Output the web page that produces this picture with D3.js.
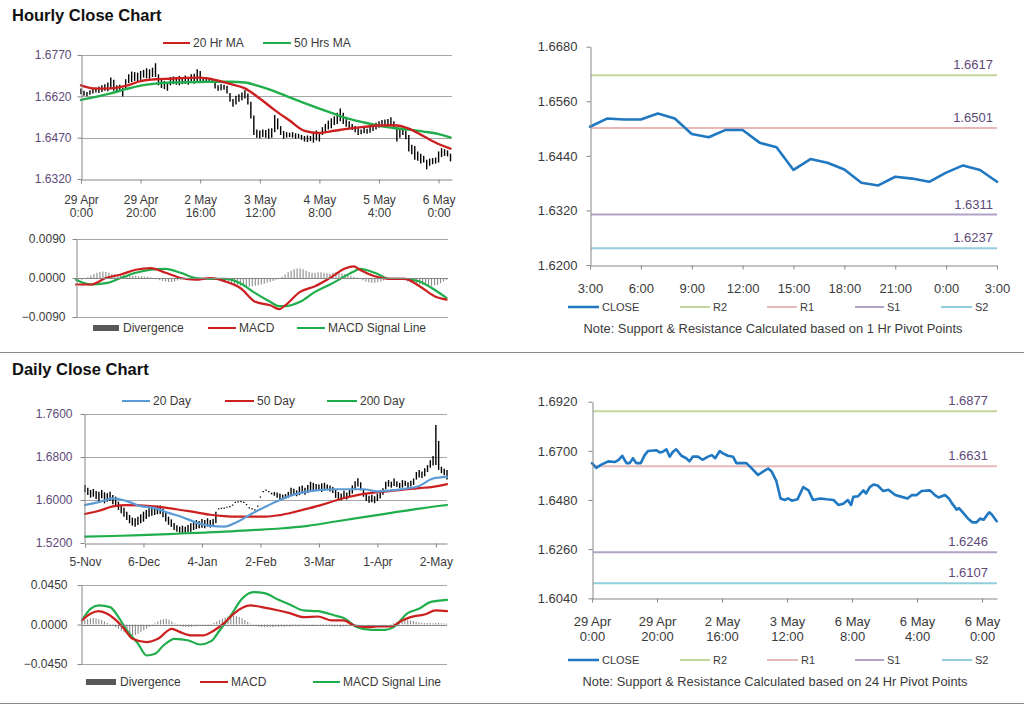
<!DOCTYPE html>
<html><head><meta charset="utf-8">
<script src="https://cdn.jsdelivr.net/npm/d3@7"></script>
<style>body{margin:0;background:#fff;} svg{display:block;}</style>
</head><body>
<svg id="c" width="1024" height="706"></svg>
<script>
// ---------------- DATA ----------------
// Hourly close chart (bars: index 0..124)
const hourlyLow = [1.6628,1.6622,1.6620,1.6626,1.6630,1.6634,1.6632,1.6636,1.6640,1.6638,
 1.6648,1.6640,1.6636,1.6640,1.6619,1.6650,1.6668,1.6672,1.6676,1.6674,
 1.6680,1.6688,1.6686,1.6684,1.6690,1.6690,1.6660,1.6650,1.6646,1.6640,
 1.6660,1.6664,1.6662,1.6660,1.6664,1.6666,1.6662,1.6668,1.6666,1.6672,
 1.6676,1.6672,1.6674,1.6670,1.6668,1.6648,1.6640,1.6642,1.6644,1.6630,
 1.6600,1.6582,1.6590,1.6600,1.6606,1.6612,1.6590,1.6540,1.6480,1.6470,
 1.6468,1.6472,1.6470,1.6466,1.6470,1.6490,1.6500,1.6480,1.6466,1.6470,
 1.6472,1.6470,1.6466,1.6468,1.6462,1.6456,1.6454,1.6458,1.6452,1.6460,
 1.6456,1.6480,1.6490,1.6500,1.6504,1.6516,1.6520,1.6530,1.6520,1.6510,
 1.6504,1.6498,1.6490,1.6480,1.6482,1.6486,1.6484,1.6488,1.6494,1.6500,
 1.6506,1.6510,1.6508,1.6512,1.6516,1.6504,1.6456,1.6470,1.6480,1.6464,
 1.6420,1.6410,1.6390,1.6386,1.6376,1.6380,1.6355,1.6368,1.6374,1.6376,
 1.6380,1.6400,1.6404,1.6402,1.6384];
const hourlyHigh = [1.6648,1.6640,1.6636,1.6642,1.6650,1.6652,1.6656,1.6660,1.6664,1.6670,
 1.6688,1.6680,1.6660,1.6662,1.6650,1.6682,1.6700,1.6710,1.6708,1.6706,
 1.6712,1.6716,1.6722,1.6718,1.6724,1.6740,1.6700,1.6682,1.6676,1.6670,
 1.6690,1.6692,1.6688,1.6694,1.6690,1.6696,1.6690,1.6700,1.6702,1.6718,
 1.6712,1.6690,1.6688,1.6686,1.6680,1.6668,1.6660,1.6664,1.6662,1.6658,
 1.6632,1.6610,1.6622,1.6628,1.6634,1.6642,1.6630,1.6600,1.6550,1.6500,
 1.6496,1.6500,1.6498,1.6502,1.6504,1.6552,1.6540,1.6512,1.6494,1.6490,
 1.6488,1.6490,1.6486,1.6484,1.6480,1.6476,1.6478,1.6476,1.6490,1.6496,
 1.6490,1.6508,1.6520,1.6532,1.6540,1.6548,1.6560,1.6576,1.6560,1.6546,
 1.6530,1.6520,1.6512,1.6504,1.6500,1.6506,1.6502,1.6510,1.6514,1.6524,
 1.6530,1.6534,1.6536,1.6538,1.6544,1.6530,1.6510,1.6506,1.6512,1.6496,
 1.6480,1.6444,1.6440,1.6420,1.6412,1.6404,1.6390,1.6394,1.6396,1.6398,
 1.6420,1.6432,1.6428,1.6424,1.6412];
const hourlyMaIdx = [0,5,10,15,20,25,30,35,40,45,50,55,60,65,70,75,80,85,90,95,100,105,110,115,120,124];
const ma20Hr = [1.6660,1.6648,1.6649,1.6658,1.6675,1.6682,1.6684,1.6687,1.6688,1.6680,1.6665,1.6649,1.6612,1.6570,1.6532,1.6495,1.6487,1.6495,1.6503,1.6509,1.6514,1.6515,1.6503,1.6475,1.6447,1.6430];
const ma50Hr = [1.6607,1.6618,1.6631,1.6646,1.6659,1.6666,1.6670,1.6671,1.6672,1.6673,1.6673,1.6670,1.6656,1.6638,1.6616,1.6595,1.6575,1.6556,1.6538,1.6525,1.6513,1.6505,1.6499,1.6492,1.6483,1.6471];
const hourlyTickIdx = [0,20,40,60,80,100,120];
const hourlyTickLabels = [["29 Apr","0:00"],["29 Apr","20:00"],["2 May","16:00"],["3 May","12:00"],["4 May","8:00"],["5 May","4:00"],["6 May","0:00"]];
const hourlyYTicks = [1.6320,1.6470,1.6620,1.6770];

// Hourly MACD
const macdHIdx = [0,5,10,15,20,25,30,35,40,45,50,55,60,65,68,70,75,80,85,90,93,95,100,105,110,115,120,124];
const macdH = [-0.0015,-0.0015,0.0000,0.0008,0.0019,0.0023,0.0012,0.0000,-0.0004,0.0000,-0.0008,-0.0023,-0.0055,-0.0063,-0.0072,-0.0063,-0.0032,-0.0019,0.0000,0.0022,0.0027,0.0019,0.0004,-0.0002,-0.0002,-0.0019,-0.0042,-0.0050];
const signalH = [-0.0004,-0.0015,-0.0012,0.0000,0.0012,0.0019,0.0021,0.0012,0.0000,-0.0002,-0.0002,-0.0012,-0.0035,-0.0055,-0.0065,-0.0065,-0.0055,-0.0032,-0.0015,0.0004,0.0015,0.0021,0.0012,-0.0002,-0.0002,-0.0008,-0.0027,-0.0046];
const divergenceH = [0,-0.0003,-0.0004,-0.0002,0.0002,0.0006,0.0009,0.0012,0.0014,0.0015,
 0.0014,0.0012,0.0010,0.0009,0.0008,0.0008,0.0007,0.0006,0.0006,0.0005,
 0.0005,0.0004,0.0004,0.0003,0.0003,0.0002,0.0000,-0.0003,-0.0005,-0.0007,
 -0.0008,-0.0009,-0.0009,-0.0008,-0.0006,-0.0004,-0.0003,-0.0002,-0.0001,0.0000,
 0.0001,0.0002,0.0001,0.0000,-0.0001,-0.0002,-0.0003,-0.0004,-0.0005,-0.0006,
 -0.0008,-0.0010,-0.0012,-0.0014,-0.0016,-0.0018,-0.0019,-0.0020,-0.0020,-0.0019,
 -0.0018,-0.0017,-0.0015,-0.0013,-0.0011,-0.0009,-0.0007,-0.0004,-0.0001,0.0003,
 0.0008,0.0013,0.0017,0.0020,0.0022,0.0022,0.0020,0.0017,0.0014,0.0012,
 0.0012,0.0013,0.0013,0.0012,0.0011,0.0010,0.0012,0.0014,0.0013,0.0011,
 0.0009,0.0007,0.0005,0.0003,0.0001,-0.0002,-0.0005,-0.0008,-0.0010,-0.0011,
 -0.0011,-0.0010,-0.0008,-0.0006,-0.0004,-0.0003,-0.0002,-0.0001,0.0000,-0.0002,
 -0.0005,-0.0008,-0.0010,-0.0012,-0.0014,-0.0015,-0.0016,-0.0017,-0.0018,-0.0018,
 -0.0017,-0.0016,-0.0012,-0.0008,-0.0004];
const macdHYTicks = [-0.0090,0.0000,0.0090];

// 1 Hr pivot chart
const close1Hr = [1.6504,1.6522,1.6520,1.6520,1.6533,1.6522,1.6488,1.6481,1.6497,1.6497,1.6469,1.6459,1.6409,1.6433,1.6425,1.6410,1.6381,1.6375,1.6394,1.6390,1.6383,1.6403,1.6419,1.6409,1.6383];
const hours1Hr = ["3:00","6:00","9:00","12:00","15:00","18:00","21:00","0:00","3:00"];
const pivot1Hr = [1.6617,1.6501,1.6311,1.6237]; // R2, R1, S1, S2
const y1HrTicks = [1.6200,1.6320,1.6440,1.6560,1.6680];

// Daily close chart (bars: index 0..130)
const dailyLow = [1.6143,1.6093,1.6044,1.6062,1.6019,1.5982,1.6031,1.5938,1.5969,1.5982,
 1.5920,1.5907,1.5814,1.5752,1.5690,1.5628,1.5566,1.5523,1.5504,1.5535,
 1.5566,1.5597,1.5647,1.5690,1.5709,1.5721,1.5734,1.5740,1.5680,1.5600,
 1.5540,1.5500,1.5440,1.5410,1.5390,1.5380,1.5393,1.5399,1.5411,1.5442,
 1.5461,1.5473,1.5486,1.5473,1.5504,1.5486,1.5523,1.5566,
 1.5824,1.5834,1.5839,1.5854,1.5864,1.5894,1.5944,1.5954,1.5959,1.5944,1.5904,1.5844,1.5824,1.5804,1.5874,1.6044,1.6144,1.6174,1.6144,
 1.6105,1.6080,1.6040,1.6010,1.6000,1.6020,1.6040,1.6080,1.6100,1.6070,1.6090,1.6120,1.6100,
 1.6130,1.6150,1.6160,1.6180,1.6170,1.6150,1.6180,1.6200,1.6160,1.6130,
 1.6040,1.6000,1.5990,1.6030,1.6010,1.6060,1.6120,1.6200,1.6250,1.6180,
 1.6060,1.5980,1.5950,1.5960,1.5940,1.5980,1.6030,1.6100,1.6200,1.6250,
 1.6230,1.6260,1.6240,1.6220,1.6230,1.6260,1.6220,1.6250,1.6280,1.6380,
 1.6420,1.6410,1.6440,1.6520,1.6600,1.6640,1.6650,1.6560,1.6500,1.6460,1.6380];
const dailyHigh = [1.6279,1.6230,1.6186,1.6205,1.6168,1.6155,1.6186,1.6143,1.6124,1.6155,
 1.6093,1.6062,1.5969,1.5907,1.5858,1.5783,1.5721,1.5672,1.5659,1.5690,
 1.5734,1.5783,1.5814,1.5845,1.5858,1.5876,1.5895,1.5900,1.5840,1.5760,
 1.5690,1.5640,1.5570,1.5530,1.5504,1.5523,1.5504,1.5535,1.5566,1.5597,
 1.5628,1.5610,1.5647,1.5628,1.5659,1.5628,1.5647,1.5783,
 1.5836,1.5846,1.5851,1.5866,1.5876,1.5906,1.5956,1.5966,1.5971,1.5956,1.5916,1.5856,1.5836,1.5816,1.5886,1.6056,1.6156,1.6186,1.6156,
 1.6135,1.6150,1.6140,1.6120,1.6100,1.6110,1.6150,1.6230,1.6210,1.6180,1.6250,1.6270,1.6230,
 1.6280,1.6340,1.6320,1.6300,1.6290,1.6310,1.6320,1.6290,1.6270,1.6240,
 1.6200,1.6150,1.6120,1.6170,1.6140,1.6200,1.6270,1.6350,1.6403,1.6330,
 1.6200,1.6110,1.6080,1.6100,1.6070,1.6120,1.6180,1.6220,1.6340,1.6370,
 1.6340,1.6400,1.6350,1.6320,1.6370,1.6360,1.6330,1.6360,1.6400,1.6520,
 1.6560,1.6530,1.6590,1.6650,1.6740,1.6820,1.7395,1.7100,1.6620,1.6580,1.6560];
const dailyMaIdx = [0,5,10,15,20,25,30,35,40,45,50,55,60,65,70,75,80,85,90,95,100,105,110,115,120,125,130];
const ma20Day = [1.5907,1.5960,1.6031,1.5980,1.5885,1.5850,1.5760,1.5680,1.5580,1.5520,1.5505,1.5600,1.5750,1.5880,1.6000,1.6100,1.6160,1.6190,1.6200,1.6200,1.6200,1.6160,1.6180,1.6210,1.6260,1.6400,1.6430];
const ma50Day = [1.5740,1.5800,1.5880,1.5905,1.5900,1.5880,1.5850,1.5810,1.5770,1.5725,1.5700,1.5690,1.5690,1.5690,1.5720,1.5775,1.5840,1.5910,1.5990,1.6060,1.6115,1.6145,1.6170,1.6195,1.6220,1.6245,1.6295];
const ma200Idx = [0,10,20,30,40,50,60,70,80,90,100,110,120,130];
const ma200Day = [1.5320,1.5330,1.5345,1.5365,1.5390,1.5410,1.5440,1.5470,1.5520,1.5600,1.5680,1.5760,1.5840,1.5907];
const dailyTickIdx = [0,21,42,63,84,105,126];
const dailyTickLabels = ["5-Nov","6-Dec","4-Jan","2-Feb","3-Mar","1-Apr","2-May"];
const dailyYTicks = [1.5200,1.6000,1.6800,1.7600];

// Daily MACD
const macdDIdx = [0,3,6,9,12,15,18,23,27,32,35,39,43,47,51,54,60,64,70,74,79,84,89,93,97,102,105,110,114,117,122,126,130];
const macdD = [0.0046,0.0122,0.0152,0.0122,0.0053,-0.0049,-0.0163,-0.0201,-0.0163,-0.0049,-0.0087,-0.0125,-0.0125,-0.0068,0.0027,0.0122,0.0217,0.0198,0.0160,0.0129,0.0084,0.0091,0.0046,0.0046,-0.0011,-0.0030,-0.0023,-0.0023,0.0046,0.0084,0.0114,0.0160,0.0152];
const signalDIdx = [0,3,6,10,13,16,20,23,26,29,33,38,42,46,49,53,57,61,65,70,74,79,84,90,93,98,103,108,111,116,120,124,130];
const signalD = [0.0046,0.0179,0.0217,0.0198,0.0084,-0.0068,-0.0220,-0.0353,-0.0334,-0.0239,-0.0163,-0.0182,-0.0228,-0.0190,-0.0068,0.0103,0.0293,0.0369,0.0357,0.0281,0.0228,0.0160,0.0152,0.0103,0.0076,-0.0030,-0.0061,-0.0061,-0.0030,0.0129,0.0179,0.0255,0.0281];
const divergenceD = [0.0030,0.0050,0.0060,0.0070,0.0075,0.0070,0.0060,0.0050,0.0035,0.0020,
 0.0005,-0.0010,-0.0030,-0.0050,-0.0070,-0.0090,-0.0105,-0.0120,-0.0125,-0.0120,
 -0.0105,-0.0085,-0.0065,-0.0045,-0.0025,-0.0005,0.0015,0.0035,0.0050,0.0060,
 0.0065,0.0055,0.0035,0.0010,-0.0010,-0.0020,-0.0025,-0.0025,-0.0028,-0.0025,
 -0.0020,-0.0020,-0.0018,-0.0015,-0.0010,-0.0005,0.0005,0.0020,0.0035,0.0050,
 0.0065,0.0080,0.0090,0.0100,0.0100,0.0095,0.0085,0.0070,0.0050,0.0030,
 0.0010,-0.0010,-0.0020,-0.0025,-0.0028,-0.0030,-0.0030,-0.0028,-0.0030,-0.0025,
 -0.0025,-0.0022,-0.0025,-0.0020,-0.0022,-0.0020,-0.0018,-0.0020,-0.0015,-0.0018,
 -0.0015,-0.0018,-0.0012,-0.0010,-0.0012,-0.0015,-0.0012,-0.0015,-0.0018,-0.0020,
 -0.0022,-0.0020,-0.0025,-0.0022,-0.0018,-0.0015,-0.0012,-0.0008,-0.0005,-0.0003,
 -0.0002,0.0000,0.0002,0.0003,0.0002,0.0000,-0.0002,-0.0003,-0.0002,0.0000,
 0.0005,0.0015,0.0025,0.0035,0.0045,0.0050,0.0050,0.0045,0.0040,0.0030,
 0.0025,0.0020,0.0015,0.0018,0.0020,0.0015,0.0018,0.0020,0.0015,0.0010,0.0008];
const macdDYTicks = [-0.0450,0.0000,0.0450];

// 24 Hr pivot chart (hourly closes, positions in hour index 0..124)
const close24Idx = [0,1.3,2.9,5,7,8.2,9.3,10.6,11.6,12.6,13.6,15,16.2,17.2,19.8,20.8,21.8,22.9,23.9,24.9,25.9,27.5,29,30,31,32.6,34,35.7,36.9,37.9,39.3,40.3,41.8,43.4,44.4,45.9,47.5,49,51.1,52.6,54.2,55.2,56.7,58,59.3,60.3,61.5,63.2,65,66.6,68,70.2,72.2,74.3,75.8,77.3,78.7,79.7,80.4,81.9,83.5,84.3,85.5,86.6,87.9,89.6,91.2,93.3,95.3,97.1,98.4,99.9,101.4,104,105.5,106.6,108.6,109.8,110.7,112.2,112.9,114.2,115.8,117,118.3,119.4,120.5,121.4,122.2,123,124.5];
const close24Val = [1.6645,1.6624,1.6638,1.6653,1.6650,1.6660,1.6678,1.6645,1.6645,1.6667,1.6645,1.6645,1.6681,1.6699,1.6703,1.6693,1.6696,1.6707,1.6674,1.6696,1.6707,1.6678,1.6667,1.6653,1.6674,1.6674,1.6660,1.6674,1.6681,1.6667,1.6699,1.6689,1.6678,1.6674,1.6645,1.6645,1.6645,1.6624,1.6592,1.6607,1.6621,1.6609,1.6566,1.6487,1.6480,1.6487,1.6477,1.6483,1.6538,1.6523,1.6480,1.6487,1.6483,1.6480,1.6458,1.6463,1.6480,1.6458,1.6494,1.6497,1.6523,1.6509,1.6538,1.6549,1.6545,1.6520,1.6526,1.6502,1.6494,1.6487,1.6502,1.6502,1.6520,1.6523,1.6502,1.6491,1.6502,1.6487,1.6466,1.6437,1.6444,1.6422,1.6395,1.6380,1.6380,1.6397,1.6392,1.6410,1.6425,1.6415,1.6385];
const tick24Idx = [0,20,40,60,80,100,120];
const tick24Labels = [["29 Apr","0:00"],["29 Apr","20:00"],["2 May","16:00"],["3 May","12:00"],["6 May","8:00"],["6 May","4:00"],["6 May","0:00"]];
const pivot24Hr = [1.6877,1.6631,1.6246,1.6107]; // R2, R1, S1, S2
const y24Ticks = [1.6040,1.6260,1.6480,1.6700,1.6920];

const pivotNames = ["R2","R1","S1","S2"];

// ---------------- STYLE ----------------
const FONT = '"Liberation Sans", Arial, Helvetica, sans-serif';
const GRID = '#a6a6a6', AX = '#868686';
const RED = '#cc1f1f', GREEN = '#1fae4b', BLUE20 = '#5b9bd5', CLOSE = '#1f78c1';
const PIVOT_COL = ['#c3d69b','#e6b9b8','#b3a2c7','#93cddd'];
const PURPLE = '#5e4a78', TXT = '#3a3a3a';

const svg = d3.select('#c').attr('font-family', FONT);
const fmt4 = d3.format('.4f');

function hgrid(x0, x1, y, vals) {
  svg.append('g').selectAll('line').data(vals).join('line')
    .attr('x1', x0).attr('x2', x1)
    .attr('y1', d => Math.round(y(d)) + 0.5).attr('y2', d => Math.round(y(d)) + 0.5)
    .attr('stroke', GRID).attr('stroke-width', 1);
}
function yAxis(x0, y, ticks, o) {
  const g = svg.append('g').attr('transform', `translate(${x0 + 0.5},0)`)
    .call(d3.axisLeft(y).tickValues(ticks).tickFormat(fmt4).tickSize(4).tickSizeOuter(0).tickPadding(o.pad));
  g.attr('font-family', FONT).attr('font-size', o.fs);
  g.select('.domain').attr('stroke', AX);
  g.selectAll('.tick line').attr('stroke', AX);
  g.selectAll('.tick text').attr('fill', o.color);
}
function xAxis(y0, x, ticks, labels, o) {
  const g = svg.append('g').attr('transform', `translate(0,${Math.round(y0) + 0.5})`)
    .call(d3.axisBottom(x).tickValues(ticks).tickFormat(() => '').tickSize(4).tickSizeOuter(0).tickPadding(o.pad));
  g.attr('font-family', FONT).attr('font-size', o.fs);
  g.select('.domain').attr('stroke', AX);
  g.selectAll('.tick line').attr('stroke', AX);
  if (labels) {
    g.selectAll('.tick text').attr('fill', TXT).each(function (d, i) {
      const t = d3.select(this).text(null);
      const lines = Array.isArray(labels[i]) ? labels[i] : [labels[i]];
      lines.forEach((l, k) => t.append('tspan').attr('x', 0).attr('dy', k ? o.lh : '0.71em').text(l));
    });
  }
}
function bars(x, y, lo, hi) {
  svg.append('g').selectAll('line').data(lo).join('line')
    .attr('x1', (d, i) => x(i)).attr('x2', (d, i) => x(i))
    .attr('y1', d => y(d)).attr('y2', (d, i) => Math.min(y(hi[i]), y(d) - 1.2))
    .attr('stroke', '#000').attr('stroke-width', 1.4);
}
function line(x, y, idx, vals, color, w, curve) {
  svg.append('path').datum(vals.map((v, i) => [idx[i], v]))
    .attr('d', d3.line().x(d => x(d[0])).y(d => y(d[1])).curve(curve || d3.curveMonotoneX))
    .attr('fill', 'none').attr('stroke', color).attr('stroke-width', w)
    .attr('stroke-linejoin', 'round').attr('stroke-linecap', 'round');
}
function hist(x, y, vals) {
  svg.append('g').selectAll('line').data(vals).join('line')
    .attr('x1', (d, i) => x(i)).attr('x2', (d, i) => x(i))
    .attr('y1', y(0)).attr('y2', d => y(d))
    .attr('stroke', '#8a8a8a').attr('stroke-width', 1.1);
}
function legendLine(x1, x2, y, color, w, label, fs) {
  svg.append('line').attr('x1', x1).attr('x2', x2).attr('y1', y).attr('y2', y)
    .attr('stroke', color).attr('stroke-width', w);
  svg.append('text').attr('x', x2 + 3).attr('y', y).attr('dy', '0.35em')
    .attr('font-size', fs).attr('fill', TXT).text(label);
}
function legendBox(x1, x2, y, label, fs) {
  svg.append('rect').attr('x', x1).attr('y', y - 3).attr('width', x2 - x1).attr('height', 6).attr('fill', '#595959');
  svg.append('text').attr('x', x2 + 4).attr('y', y).attr('dy', '0.35em')
    .attr('font-size', fs).attr('fill', TXT).text(label);
}

// ---------------- TITLES & SEPARATORS ----------------
svg.append('text').attr('x', 12).attr('y', 21).attr('font-size', 16.5).attr('font-weight', 'bold').attr('fill', '#111').text('Hourly Close Chart');
svg.append('text').attr('x', 12).attr('y', 375).attr('font-size', 16.5).attr('font-weight', 'bold').attr('fill', '#111').text('Daily Close Chart');
svg.append('line').attr('x1', 0).attr('x2', 1024).attr('y1', 352.5).attr('y2', 352.5).attr('stroke', '#8c8c8c');
svg.append('line').attr('x1', 0).attr('x2', 1024).attr('y1', 703.5).attr('y2', 703.5).attr('stroke', '#8c8c8c');

// ---------------- PANEL 1: hourly bars ----------------
{
  const x = d3.scaleLinear().domain([0, 124.5]).range([81, 452]);
  const y = d3.scaleLinear().domain([1.632, 1.677]).range([179, 55]);
  hgrid(81, 452, y, hourlyYTicks.slice(1));
  bars(x, y, hourlyLow, hourlyHigh);
  line(x, y, hourlyMaIdx, ma50Hr, GREEN, 2.4);
  line(x, y, hourlyMaIdx, ma20Hr, RED, 2.4);
  yAxis(81, y, hourlyYTicks, { pad: 6, fs: 12, color: PURPLE });
  xAxis(179, x, hourlyTickIdx, hourlyTickLabels, { pad: 12, fs: 12, lh: '1.12em' });
  legendLine(163, 190, 43, RED, 2, '20 Hr MA', 12);
  legendLine(263, 291, 43, GREEN, 2, '50 Hrs MA', 12);
}
// ---------------- PANEL 2: hourly MACD ----------------
{
  const x = d3.scaleLinear().domain([0, 124.5]).range([76, 448]);
  const y = d3.scaleLinear().domain([-0.009, 0.009]).range([317, 239]);
  hgrid(76, 448, y, [0.009, -0.009]);
  hist(x, y, divergenceH);
  line(x, y, macdHIdx, signalH, GREEN, 2.2);
  line(x, y, macdHIdx, macdH, RED, 2.2);
  svg.append('line').attr('x1', 76).attr('x2', 448).attr('y1', Math.round(y(0)) + 0.5).attr('y2', Math.round(y(0)) + 0.5).attr('stroke', AX);
  yAxis(76, y, macdHYTicks, { pad: 7, fs: 12, color: TXT });
  legendBox(93, 119, 328, 'Divergence', 12);
  legendLine(208, 236, 328, RED, 2, 'MACD', 12);
  legendLine(297, 325, 328, GREEN, 2, 'MACD  Signal Line', 12);
}
// ---------------- PANEL 3: 1 Hr pivots ----------------
{
  const x = d3.scaleLinear().domain([0, 24]).range([590, 997]);
  const y = d3.scaleLinear().domain([1.62, 1.668]).range([265, 46.7]);
  pivot1Hr.forEach((p, k) => {
    svg.append('line').attr('x1', 591).attr('x2', 997).attr('y1', y(p)).attr('y2', y(p)).attr('stroke', PIVOT_COL[k]).attr('stroke-width', 2);
    svg.append('text').attr('x', 993).attr('y', y(p) - 6).attr('text-anchor', 'end').attr('font-size', 13).attr('fill', PURPLE).text(fmt4(p));
  });
  line(x, y, d3.range(close1Hr.length), close1Hr, CLOSE, 2.6, d3.curveLinear);
  yAxis(590, y, y1HrTicks, { pad: 9, fs: 13, color: TXT });
  xAxis(265, x, d3.range(0, 25, 3), hours1Hr, { pad: 14, fs: 13, lh: '1.2em' });
  const names = ['CLOSE'].concat(pivotNames), cols = [CLOSE].concat(PIVOT_COL);
  const lx = [[568, 599], [680, 710], [767, 797], [855, 884], [941, 972]];
  names.forEach((n, k) => legendLine(lx[k][0], lx[k][1], 307, cols[k], k ? 2 : 2.5, n, 11));
  svg.append('text').attr('x', 773).attr('y', 329).attr('dy', '0.35em').attr('text-anchor', 'middle').attr('font-size', 12)
    .attr('textLength', 379).attr('lengthAdjust', 'spacingAndGlyphs').attr('fill', TXT)
    .text('Note: Support & Resistance Calculated based on 1 Hr Pivot Points');
}
// ---------------- PANEL 4: daily bars ----------------
{
  const x = d3.scaleLinear().domain([0, 130]).range([85, 447]);
  const y = d3.scaleLinear().domain([1.52, 1.76]).range([543, 414]);
  hgrid(84, 447, y, dailyYTicks.slice(1));
  bars(x, y, dailyLow, dailyHigh);
  line(x, y, ma200Idx, ma200Day, GREEN, 2.2);
  line(x, y, dailyMaIdx, ma50Day, RED, 2.2);
  line(x, y, dailyMaIdx, ma20Day, BLUE20, 2.2);
  const xa = d3.scaleLinear().domain([0, 130]).range([85, 447]);
  yAxis(84, y, dailyYTicks, { pad: 8, fs: 12, color: PURPLE });
  xAxis(543, xa, dailyTickIdx, dailyTickLabels, { pad: 10, fs: 12, lh: '1.1em' });
  legendLine(122, 150, 401, BLUE20, 2, '20 Day', 12);
  legendLine(225, 254, 401, RED, 2, '50 Day', 12);
  legendLine(327, 357, 401, GREEN, 2, '200 Day', 12);
}
// ---------------- PANEL 5: daily MACD ----------------
{
  const x = d3.scaleLinear().domain([0, 130]).range([82, 447]);
  const y = d3.scaleLinear().domain([-0.045, 0.045]).range([664, 585]);
  hgrid(81, 447, y, [0.045, -0.045]);
  hist(x, y, divergenceD);
  line(x, y, signalDIdx, signalD, GREEN, 2.2);
  line(x, y, macdDIdx, macdD, RED, 2.2);
  svg.append('line').attr('x1', 81).attr('x2', 447).attr('y1', Math.round(y(0)) + 0.5).attr('y2', Math.round(y(0)) + 0.5).attr('stroke', AX);
  yAxis(81, y, macdDYTicks, { pad: 10, fs: 12, color: TXT });
  legendBox(86, 116, 682, 'Divergence', 12);
  legendLine(200, 228, 682, RED, 2, 'MACD', 12);
  legendLine(313, 340, 682, GREEN, 2, 'MACD  Signal Line', 12);
}
// ---------------- PANEL 6: 24 Hr pivots ----------------
{
  const x = d3.scaleLinear().domain([0, 124.6]).range([592, 997]);
  const y = d3.scaleLinear().domain([1.604, 1.692]).range([598.3, 401.7]);
  pivot24Hr.forEach((p, k) => {
    svg.append('line').attr('x1', 593).attr('x2', 997).attr('y1', y(p)).attr('y2', y(p)).attr('stroke', PIVOT_COL[k]).attr('stroke-width', 2);
    svg.append('text').attr('x', 988).attr('y', y(p) - 6).attr('text-anchor', 'end').attr('font-size', 13).attr('fill', PURPLE).text(fmt4(p));
  });
  line(x, y, close24Idx, close24Val, CLOSE, 2.6, d3.curveLinear);
  yAxis(592, y, y24Ticks, { pad: 11, fs: 13, color: TXT });
  xAxis(598, x, tick24Idx, tick24Labels, { pad: 14, fs: 13, lh: '1.2em' });
  const names = ['CLOSE'].concat(pivotNames), cols = [CLOSE].concat(PIVOT_COL);
  const lx = [[568, 599], [680, 710], [767, 798], [855, 884], [942, 972]];
  names.forEach((n, k) => legendLine(lx[k][0], lx[k][1], 660, cols[k], k ? 2 : 2.5, n, 11));
  svg.append('text').attr('x', 775).attr('y', 682).attr('dy', '0.35em').attr('text-anchor', 'middle').attr('font-size', 12)
    .attr('textLength', 385).attr('lengthAdjust', 'spacingAndGlyphs').attr('fill', TXT)
    .text('Note: Support & Resistance Calculated based on 24 Hr Pivot Points');
}
</script>
</body></html>
